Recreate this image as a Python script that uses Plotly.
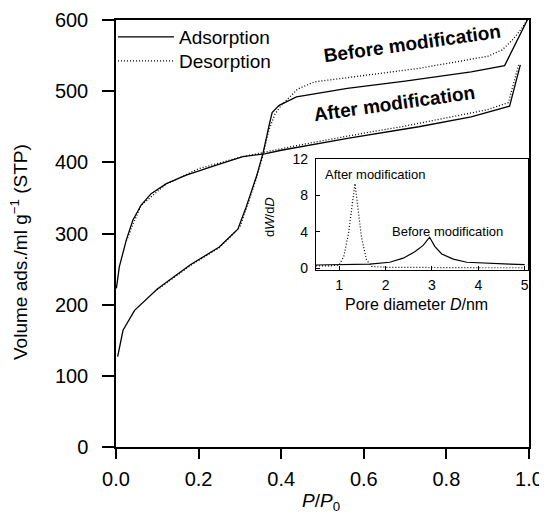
import plotly.graph_objects as go

# ---------------- data ----------------
# Main isotherms: relative pressure P/P0 vs volume adsorbed
before_ads_x = [0.004, 0.017, 0.045, 0.1, 0.18, 0.25, 0.295, 0.315, 0.34, 0.356, 0.37, 0.378, 0.395, 0.437, 0.56, 0.7, 0.86, 0.941, 0.996]
before_ads_y = [127, 164, 192, 222, 256, 281, 306, 337, 380, 413, 450, 470, 480, 492, 504, 514, 527, 536, 600]

before_des_x = [0.995, 0.985, 0.96, 0.935, 0.9, 0.8, 0.733, 0.6, 0.48, 0.44, 0.42, 0.40, 0.385, 0.37, 0.355, 0.34, 0.32, 0.3, 0.25, 0.18, 0.1]
before_des_y = [600, 590, 572, 558, 549, 539, 532, 522, 513, 503, 492, 480, 468, 445, 408, 378, 343, 309, 280, 255, 221]

after_ads_x = [0.001, 0.008, 0.025, 0.041, 0.061, 0.085, 0.122, 0.17, 0.243, 0.307, 0.36, 0.4, 0.564, 0.733, 0.86, 0.953, 0.979]
after_ads_y = [223, 253, 291, 319, 340, 356, 370, 382, 396, 408, 412, 417, 434, 450, 464, 479, 537]

after_des_x = [0.975, 0.95, 0.9, 0.8, 0.7, 0.6, 0.5, 0.45, 0.4, 0.3, 0.2, 0.12, 0.06, 0.025]
after_des_y = [537, 484, 474, 462, 451, 441, 431, 425, 419, 407, 391, 369, 339, 290]

# Inset: pore size distribution
pore_d_after = [0.5, 0.8, 1.0, 1.1, 1.2, 1.27, 1.34, 1.41, 1.48, 1.59, 1.7, 2.0, 3.0, 4.0, 5.0]
dwdd_after = [0.25, 0.25, 0.35, 1.3, 3.8, 6.4, 9.3, 6.4, 3.4, 0.9, 0.2, 0.1, 0.05, 0.05, 0.05]

pore_d_before = [0.5, 1.0, 1.66, 2.09, 2.38, 2.63, 2.81, 2.95, 3.06, 3.21, 3.46, 3.75, 4.1, 4.68, 5.0]
dwdd_before = [0.35, 0.4, 0.45, 0.65, 1.1, 1.8, 2.5, 3.4, 2.4, 1.56, 1.0, 0.65, 0.55, 0.45, 0.4]

main_xticks = [0.0, 0.2, 0.4, 0.6, 0.8, 1.0]
main_yticks = [0, 100, 200, 300, 400, 500, 600]
inset_xticks = [1, 2, 3, 4, 5]
inset_yticks = [0, 4, 8, 12]

# ---------------- figure ----------------
# the page body has an 8px margin, so the figure is drawn 8px in from the window corner
OFF = 8
W, H = 547 - OFF, 516 - OFF
ML, MR, MT, MB = 108, 18, 12, 69
PW, PH = W - ML - MR, H - MT - MB


def px(xs):
    """screen x (window pixels) -> paper x"""
    return (xs - OFF - ML) / PW


def py(ys):
    """screen y (window pixels) -> paper y"""
    return (H - MB - (ys - OFF)) / PH


FONT = "Liberation Sans, Arial, sans-serif"
LINE_W = 1.3
DOT = "1px,2px"

fig = go.Figure()
fig.add_trace(go.Scatter(x=before_ads_x, y=before_ads_y, mode="lines", name="Adsorption",
                         line=dict(color="black", width=LINE_W), showlegend=True, legend="legend"))
fig.add_trace(go.Scatter(x=before_des_x, y=before_des_y, mode="lines", name="Desorption",
                         line=dict(color="black", width=LINE_W, dash=DOT), showlegend=True, legend="legend2"))
fig.add_trace(go.Scatter(x=after_ads_x, y=after_ads_y, mode="lines", name="Adsorption (after)",
                         line=dict(color="black", width=LINE_W), showlegend=False))
fig.add_trace(go.Scatter(x=after_des_x, y=after_des_y, mode="lines", name="Desorption (after)",
                         line=dict(color="black", width=LINE_W, dash=DOT), showlegend=False))

fig.add_trace(go.Scatter(x=pore_d_after, y=dwdd_after, mode="lines", xaxis="x2", yaxis="y2",
                         line=dict(color="black", width=1.2, dash=DOT), showlegend=False))
fig.add_trace(go.Scatter(x=pore_d_before, y=dwdd_before, mode="lines", xaxis="x2", yaxis="y2",
                         line=dict(color="black", width=1.2), showlegend=False))

ix0, ix1 = px(316), px(528)
iy0, iy1 = py(270), py(159)

legend_common = dict(xanchor="left", yanchor="top", bgcolor="rgba(0,0,0,0)",
                     font=dict(size=19), itemwidth=56, borderwidth=0)

fig.update_layout(
    width=W, height=H,
    margin=dict(l=ML, r=MR, t=MT, b=MB, pad=0, autoexpand=False),
    paper_bgcolor="white", plot_bgcolor="white",
    font=dict(family=FONT, color="black", size=19),
    xaxis=dict(range=[0, 1], tickvals=main_xticks, tickformat=".1f", automargin=False,
               showline=True, linecolor="black", linewidth=1.5, mirror=True,
               ticks="outside", ticklen=10, tickwidth=1.5, tickcolor="black",
               showgrid=False, zeroline=False, ticklabelstandoff=3,
               tickfont=dict(size=20)),
    yaxis=dict(range=[0, 600], tickvals=main_yticks, automargin=False,
               showline=True, linecolor="black", linewidth=1.5, mirror=True,
               ticks="outside", ticklen=12, tickwidth=1.5, tickcolor="black",
               showgrid=False, zeroline=False, ticklabelstandoff=10,
               tickfont=dict(size=20)),
    xaxis2=dict(domain=[ix0, ix1], anchor="y2", range=[0.5, 5.07], tickvals=inset_xticks,
                automargin=False,
                showline=True, linecolor="black", linewidth=1.2, mirror=True,
                ticks="inside", ticklen=4, tickwidth=1, tickcolor="black",
                showgrid=False, zeroline=False, tickfont=dict(size=14), ticklabelstandoff=2),
    yaxis2=dict(domain=[iy0, iy1], anchor="x2", range=[-0.2, 12.0], tickvals=inset_yticks,
                automargin=False,
                showline=True, linecolor="black", linewidth=1.2, mirror=True,
                ticks="inside", ticklen=4, tickwidth=1, tickcolor="black",
                showgrid=False, zeroline=False, tickfont=dict(size=14), ticklabelstandoff=4),
    legend=dict(x=px(113), y=py(18), **legend_common),
    legend2=dict(x=px(113), y=py(42), **legend_common),
    showlegend=True,
)

annotations = [
    dict(text="Volume ads./ml g<sup>\u22121</sup> (STP)", x=px(19), y=py(252), textangle=-90,
         font=dict(size=19)),
    dict(text="<i>P</i>/<i>P</i><sub>0</sub>", x=px(321), y=py(502), font=dict(size=19)),
    dict(text="<b>Before modification</b>", x=px(412), y=py(44), textangle=-8, font=dict(size=19)),
    dict(text="<b>After modification</b>", x=px(394), y=py(103), textangle=-8, font=dict(size=19)),
    dict(text="After modification", x=px(375), y=py(175), font=dict(size=13)),
    dict(text="Before modification", x=px(447), y=py(231), font=dict(size=13)),
    dict(text="d<i>W</i>/d<i>D</i>", x=px(270), y=py(217), textangle=-90, font=dict(size=13)),
    dict(text="Pore diameter <i>D</i>/nm", x=px(416), y=py(304), font=dict(size=16)),
]
for a in annotations:
    a.update(xref="paper", yref="paper", showarrow=False, xanchor="center", yanchor="middle")
fig.update_layout(annotations=annotations)

fig.write_html("out.html")
